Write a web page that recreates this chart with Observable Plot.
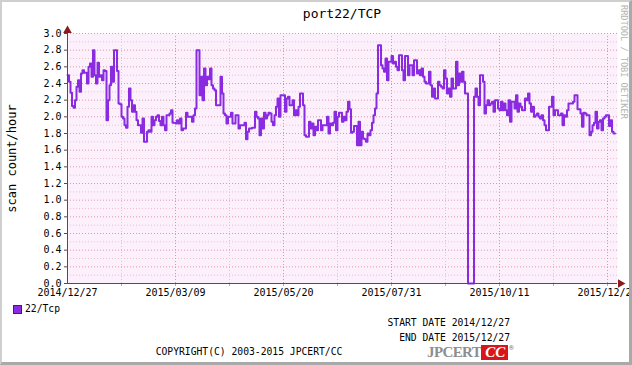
<!DOCTYPE html>
<html>
<head>
<meta charset="utf-8">
<script src="https://cdn.jsdelivr.net/npm/d3@7"></script>
<script src="https://cdn.jsdelivr.net/npm/@observablehq/plot@0.6"></script>
<style>
body{margin:0;background:#fff}
#wrap{position:relative;width:632px;height:365px;overflow:hidden;background:#fff;font-family:"DejaVu Sans Mono",monospace;color:#000}
#chart{position:absolute;left:0;top:0}
.t{position:absolute;white-space:nowrap;line-height:1}
#frame{position:absolute;left:0;top:0;width:632px;height:365px;box-sizing:border-box;border-top:2px solid #cfcfcf;border-left:2px solid #cfcfcf;border-right:3px solid #a9a9a9;border-bottom:3px solid #a9a9a9;pointer-events:none}
</style>
</head>
<body>
<div id="wrap">
  <div id="chart"></div>
  <div class="t" id="title" style="left:67px;width:550px;top:7px;text-align:center;font-size:13px"></div>
  <div class="t" style="left:13px;top:305px;width:7px;height:7px;background:#8a2be2;border:1px solid #4b1480"></div>
  <div class="t" id="legend" style="left:25px;top:304px;font-size:9.7px"></div>
  <div class="t" id="start" style="right:122px;top:318px;font-size:9.7px"></div>
  <div class="t" id="end" style="right:122px;top:333px;font-size:9.7px"></div>
  <div class="t" id="copy" style="left:0;width:498px;top:347px;font-size:9.7px;text-align:center"></div>
  <div class="t" style="left:427px;top:345px;height:15px;display:flex;align-items:stretch">
    <span style="font-family:'Liberation Serif',serif;font-weight:bold;font-size:15px;color:#8e8e8e;letter-spacing:-0.6px;line-height:15px">JPCERT</span>
    <span style="background:#d9141c;color:#fff;font-family:'Liberation Serif',serif;font-weight:bold;font-style:italic;font-size:15px;line-height:15px;padding:0 3px 0 4px">CC</span>
    <span style="font-size:7px;color:#666;margin-left:1px;line-height:7px">&reg;</span>
  </div>
  <div class="t" id="wm" style="left:619px;top:5px;writing-mode:vertical-rl;font-size:8.6px;color:#b4b4b4"></div>
  <div id="frame"></div>
</div>
<script>
const chartTitle = "port22/TCP";
const yLabel = "scan count/hour";
const seriesName = "22/Tcp";
const startDate = "2014-12-27";
const endDate = "2015-12-28T16:00";
const startText = "START DATE 2014/12/27";
const endText = "END DATE 2015/12/27";
const copyText = "COPYRIGHT(C) 2003-2015 JPCERT/CC";
const watermark = "RRDTOOL / TOBI OETIKER";

// daily values from 2014/12/27
const counts = [
  2.5, 2.42, 2.29, 2.13, 2.11, 2.2, 2.36, 2.44, 2.3, 2.52,
  2.56, 2.53, 2.53, 2.4, 2.6, 2.64, 2.48, 2.8, 2.5, 2.4,
  2.65, 2.48, 2.5, 2.44, 2.56, 2.55, 1.96, 2.2, 2.38, 2.6,
  2.42, 2.8, 2.8, 2.55, 2.16, 2.15, 2.0, 1.98, 1.9, 1.87,
  2.12, 2.34, 2.2, 2.06, 2.14, 2.06, 1.96, 1.9, 1.9, 1.81,
  1.98, 1.7, 1.7, 1.82, 1.84, 1.82, 2.0, 1.9, 1.96, 2.0,
  2.02, 1.95, 1.9, 2.0, 1.9, 1.84, 2.02, 2.02, 2.04, 2.08,
  1.93, 1.93, 1.92, 1.96, 1.92, 1.98, 1.84, 1.86, 1.86, 2.05,
  2.0, 2.0, 2.0, 1.94, 2.02, 2.1, 2.8, 2.8, 2.26, 2.48,
  2.2, 2.58, 2.38, 2.48, 2.45, 2.58, 2.38, 2.34, 2.32, 2.14,
  2.14, 2.14, 2.48, 2.28, 2.04, 2.02, 1.92, 2.0, 2.0, 2.05,
  1.92, 1.92, 2.02, 2.02, 1.86, 1.9, 1.9, 1.9, 1.93, 1.73,
  1.82, 1.86, 1.86, 1.87, 1.87, 2.06, 2.0, 1.98, 1.78, 1.98,
  1.86, 2.05, 1.98, 2.02, 2.05, 2.04, 1.94, 1.9, 2.02, 2.12,
  2.22, 2.0, 2.26, 2.26, 2.26, 2.06, 2.22, 2.24, 2.14, 2.14,
  2.2, 2.02, 2.08, 2.02, 2.12, 2.28, 2.28, 2.14, 1.78, 1.76,
  1.76, 1.94, 1.86, 1.92, 1.78, 1.88, 1.84, 1.96, 1.96, 1.84,
  1.9, 1.9, 1.9, 2.0, 1.8, 1.92, 1.9, 1.93, 2.06, 1.84,
  2.0, 2.05, 2.05, 1.94, 2.0, 1.96, 2.06, 2.18, 2.09, 1.81,
  1.82, 1.89, 1.89, 1.66, 1.94, 1.66, 1.82, 1.74, 1.73, 1.7,
  1.8, 1.78, 1.84, 1.93, 2.02, 2.1, 2.28, 2.86, 2.86, 2.62,
  2.58, 2.54, 2.7, 2.44, 2.66, 2.66, 2.73, 2.64, 2.66, 2.6,
  2.56, 2.74, 2.74, 2.56, 2.44, 2.73, 2.73, 2.5, 2.62, 2.62,
  2.5, 2.68, 2.68, 2.52, 2.56, 2.5, 2.58, 2.48, 2.42, 2.4,
  2.4, 2.54, 2.38, 2.24, 2.34, 2.22, 2.22, 2.42, 2.38, 2.36,
  2.34, 2.56, 2.46, 2.28, 2.34, 2.24, 2.46, 2.34, 2.34, 2.66,
  2.38, 2.52, 2.42, 2.54, 2.42, 2.28, 2.28, 0, 0, 0,
  0, 2.24, 2.34, 2.24, 2.14, 2.5, 2.5, 2.42, 2.04, 2.14,
  2.2, 2.14, 2.16, 2.18, 2.06, 2.2, 2.2, 2.1, 2.08, 2.18,
  2.08, 2.16, 2.08, 2.02, 2.2, 1.94, 2.18, 2.18, 2.1, 2.26,
  2.06, 2.16, 2.12, 2.08, 2.08, 2.22, 2.2, 2.28, 2.16, 2.06,
  2.12, 2.0, 2.02, 2.04, 2.0, 1.98, 2.02, 1.96, 1.9, 1.84,
  1.84, 2.12, 2.12, 2.24, 2.02, 2.08, 2.08, 2.02, 2.02, 2.04,
  1.9, 2.02, 2.0, 2.08, 2.16, 2.16, 2.16, 2.18, 2.26, 2.26,
  2.09, 2.09, 2.04, 1.88, 2.05, 2.04, 2.02, 2.02, 1.78, 1.82,
  1.9, 1.93, 2.06, 1.86, 1.94, 1.96, 1.84, 1.98, 2.0, 2.02,
  2.02, 1.89, 1.96, 1.82, 1.8, 1.8
];

const xTickLabels = ["2014/12/27", "2015/03/09", "2015/05/20", "2015/07/31", "2015/10/11", "2015/12/22"];
const xMinorLabels = ["2015/02/01", "2015/04/14", "2015/06/25", "2015/09/05", "2015/11/16"];
const yTicks = [0, 0.2, 0.4, 0.6, 0.8, 1.0, 1.2, 1.4, 1.6, 1.8, 2.0, 2.2, 2.4, 2.6, 2.8, 3.0];
const yMinor = [0.1, 0.3, 0.5, 0.7, 0.9, 1.1, 1.3, 1.5, 1.7, 1.9, 2.1, 2.3, 2.5, 2.7, 2.9];

const parseT = d3.utcParse("%Y/%m/%d");
const fmtT = d3.utcFormat("%Y/%m/%d");
const t0 = new Date(startDate + "T00:00Z");
const t1 = new Date(endDate + "Z");
const data = counts.map((v, i) => ({date: d3.utcDay.offset(t0, i), value: v}));
const xMajor = xTickLabels.map(parseT);
const xMinor = xMinorLabels.map(parseT);

const lineColor = "#8a2be2";
const majorGrid = "#e3949f";
const minorGrid = "#ebc0cb";
const axisColor = "#5a4a4a";
const arrowColor = "#8b1a1a";

const chart = Plot.plot({
  width: 632,
  height: 300,
  marginLeft: 67,
  marginRight: 15,
  marginTop: 33,
  marginBottom: 17,
  style: {background: "transparent", fontFamily: "DejaVu Sans Mono", fontSize: "10px", color: "#000", overflow: "hidden"},
  x: {type: "utc", domain: [t0, t1]},
  y: {type: "linear", domain: [0, 3]},
  marks: [
    Plot.frame({fill: "#fdf0fd", stroke: null}),
    Plot.gridY(yMinor, {stroke: minorGrid, strokeOpacity: 1, strokeDasharray: "1,2"}),
    Plot.gridX(xMinor, {stroke: minorGrid, strokeOpacity: 1, strokeDasharray: "1,2"}),
    Plot.gridY(yTicks.slice(1), {stroke: majorGrid, strokeOpacity: 1, strokeDasharray: "1,2"}),
    Plot.gridX(xMajor.slice(1), {stroke: majorGrid, strokeOpacity: 1, strokeDasharray: "1,2"}),
    Plot.axisY(yTicks, {tickFormat: d => d.toFixed(1), tickSize: 3, tickPadding: 3, stroke: axisColor, label: null, fill: "#000"}),
    Plot.axisX([...xMajor.slice(1), ...xMinor], {tickFormat: () => "", tickSize: 3, stroke: majorGrid, label: null}),
    Plot.axisX(xMajor, {tickFormat: fmtT, tickSize: 0, tickPadding: 5, label: null, fill: "#000"}),
    Plot.text([yLabel], {frameAnchor: "left", rotate: -90, dx: -55, textAnchor: "middle", lineAnchor: "middle", fontSize: 12, fill: "#000"}),
    Plot.line(data, {x: "date", y: "value", curve: "step-after", stroke: lineColor, strokeWidth: 2}),
    Plot.ruleY([0], {stroke: axisColor, strokeWidth: 1}),
    Plot.ruleX([t0], {y1: 0, y2: 3, stroke: axisColor, strokeWidth: 1}),
    Plot.dot([{x: t0, y: 3}], {x: "x", y: "y", symbol: "triangle", r: 3.2, fill: arrowColor, stroke: null, dy: -3}),
    Plot.dot([{x: t1, y: 0}], {x: "x", y: "y", symbol: "triangle", r: 3.2, rotate: 90, fill: arrowColor, stroke: null, dx: 3})
  ]
});
document.getElementById("chart").appendChild(chart);
document.getElementById("title").textContent = chartTitle;
document.getElementById("legend").textContent = seriesName;
document.getElementById("start").textContent = startText;
document.getElementById("end").textContent = endText;
document.getElementById("copy").textContent = copyText;
document.getElementById("wm").textContent = watermark;
</script>
</body>
</html>
